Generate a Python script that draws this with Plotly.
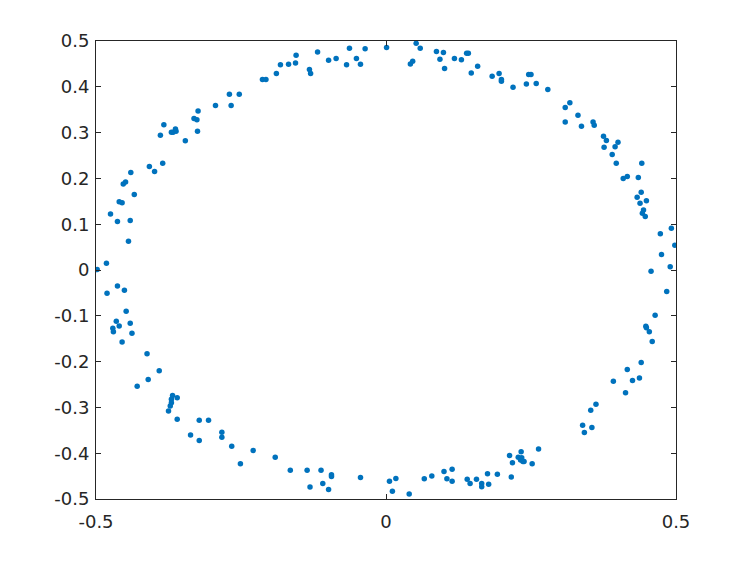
import plotly.graph_objects as go

x_vals = [
    -0.453, -0.449, -0.440, -0.408, -0.399, -0.385, -0.389, -0.383, -0.370, -0.367,
    -0.363, -0.362, -0.346, -0.325, -0.331, -0.326, -0.324, -0.294, -0.267, -0.270,
    -0.253, -0.213, -0.207, -0.189, -0.182, -0.168,
    -0.155, -0.156, -0.132, -0.130, -0.118, -0.099, -0.086, -0.068, -0.063, -0.051,
    -0.044, -0.036, 0.001, 0.042, 0.046, 0.052, 0.059, 0.087, 0.093, 0.099,
    0.101, 0.118, 0.130, 0.139, 0.142, 0.147, 0.158,
    0.183, 0.195, 0.199, 0.199, 0.219, 0.242, 0.246, 0.250, 0.259, 0.279,
    0.309, 0.317, 0.309, 0.331, 0.337, 0.357, 0.359, 0.375, 0.380, 0.376,
    0.395, 0.400, 0.390, 0.397, 0.441, 0.409, 0.416, 0.435,
    0.440, 0.433, 0.449, 0.438, 0.444, 0.442, 0.447, 0.492, 0.473, 0.498,
    0.475, 0.490, 0.457, 0.484, 0.464, 0.448, 0.449, 0.454, 0.459,
    0.440, 0.416, 0.425, 0.437, 0.392, 0.413, 0.362, 0.353, 0.339, 0.355,
    0.342, 0.263, 0.233, 0.213, 0.228, 0.234, 0.232, 0.236, 0.238, 0.218,
    0.252, 0.175, 0.192, 0.216, 0.177,
    -0.165, -0.136, -0.112, -0.094, -0.094, -0.131, -0.109, -0.099, -0.044, 0.006,
    0.017, 0.011, 0.040, 0.066, 0.079, 0.100, 0.114, 0.105, 0.114, 0.140,
    0.145, 0.156, 0.165, 0.165,
    -0.455, -0.412, -0.391, -0.429, -0.410, -0.368, -0.360, -0.370, -0.370, -0.372,
    -0.375, -0.360, -0.337, -0.322, -0.306, -0.322, -0.283, -0.283, -0.266, -0.229,
    -0.251, -0.191,
    -0.434, -0.460, -0.455, -0.475, -0.463, -0.441, -0.444, -0.482, -0.498, -0.463,
    -0.481, -0.451, -0.448, -0.465, -0.460, -0.441, -0.471, -0.470, -0.438,
]
y_vals = [
    0.188, 0.192, 0.213, 0.226, 0.215, 0.233, 0.294, 0.317, 0.301, 0.301,
    0.308, 0.303, 0.282, 0.303, 0.331, 0.328, 0.347, 0.359, 0.359, 0.384,
    0.384, 0.416, 0.416, 0.429, 0.448, 0.449,
    0.469, 0.452, 0.438, 0.429, 0.476, 0.458, 0.462, 0.448, 0.484, 0.462,
    0.449, 0.483, 0.486, 0.450, 0.456, 0.495, 0.484, 0.477, 0.460, 0.475,
    0.440, 0.462, 0.459, 0.473, 0.473, 0.430, 0.445,
    0.423, 0.429, 0.416, 0.412, 0.399, 0.406, 0.427, 0.427, 0.407, 0.394,
    0.355, 0.365, 0.323, 0.338, 0.314, 0.323, 0.316, 0.292, 0.283, 0.268,
    0.269, 0.279, 0.252, 0.233, 0.233, 0.200, 0.204, 0.202,
    0.170, 0.159, 0.151, 0.146, 0.131, 0.124, 0.117, 0.091, 0.079, 0.054,
    0.034, 0.007, -0.003, -0.047, -0.099, -0.123, -0.126, -0.135, -0.156,
    -0.202, -0.217, -0.241, -0.236, -0.243, -0.268, -0.293, -0.306, -0.339, -0.344,
    -0.355, -0.391, -0.397, -0.405, -0.409, -0.410, -0.415, -0.418, -0.418, -0.421,
    -0.423, -0.445, -0.446, -0.452, -0.468,
    -0.437, -0.437, -0.437, -0.447, -0.451, -0.474, -0.466, -0.479, -0.453, -0.461,
    -0.455, -0.483, -0.489, -0.456, -0.450, -0.440, -0.435, -0.456, -0.461, -0.457,
    -0.466, -0.457, -0.466, -0.473,
    -0.157, -0.183, -0.220, -0.254, -0.239, -0.274, -0.279, -0.282, -0.290, -0.297,
    -0.308, -0.326, -0.360, -0.328, -0.328, -0.372, -0.354, -0.365, -0.385, -0.394,
    -0.423, -0.409,
    0.165, 0.149, 0.147, 0.122, 0.106, 0.108, 0.063, 0.015, 0.001, -0.035,
    -0.051, -0.044, -0.090, -0.112, -0.122, -0.116, -0.127, -0.135, -0.138,
]

x_ticks = [-0.5, 0, 0.5]
x_tick_labels = ["-0.5", "0", "0.5"]
y_ticks = [0.5, 0.4, 0.3, 0.2, 0.1, 0, -0.1, -0.2, -0.3, -0.4, -0.5]
y_tick_labels = ["0.5", "0.4", "0.3", "0.2", "0.1", "0", "-0.1", "-0.2", "-0.3", "-0.4", "-0.5"]

fig = go.Figure(go.Scatter(
    x=x_vals, y=y_vals, mode="markers",
    marker=dict(color="#0072BD", size=5.5, symbol="circle", line=dict(width=0)),
))

axis_common = dict(
    showgrid=False, zeroline=False, showline=True, linecolor="#262626", linewidth=1,
    mirror="allticks", ticks="inside", ticklen=5, tickcolor="#262626",
    tickfont=dict(family="DejaVu Sans", size=18, color="#262626"),
)
fig.update_xaxes(range=[-0.5, 0.5], tickvals=x_ticks, ticktext=x_tick_labels,
                 ticklabelstandoff=6, **axis_common)
fig.update_yaxes(range=[-0.5, 0.5], tickvals=y_ticks, ticktext=y_tick_labels,
                 ticklabelstandoff=2, **axis_common)

fig.update_layout(
    width=748, height=562,
    margin=dict(l=88, r=80, t=33, b=71),
    paper_bgcolor="white", plot_bgcolor="white",
    showlegend=False,
)
fig.write_html("out.html")
